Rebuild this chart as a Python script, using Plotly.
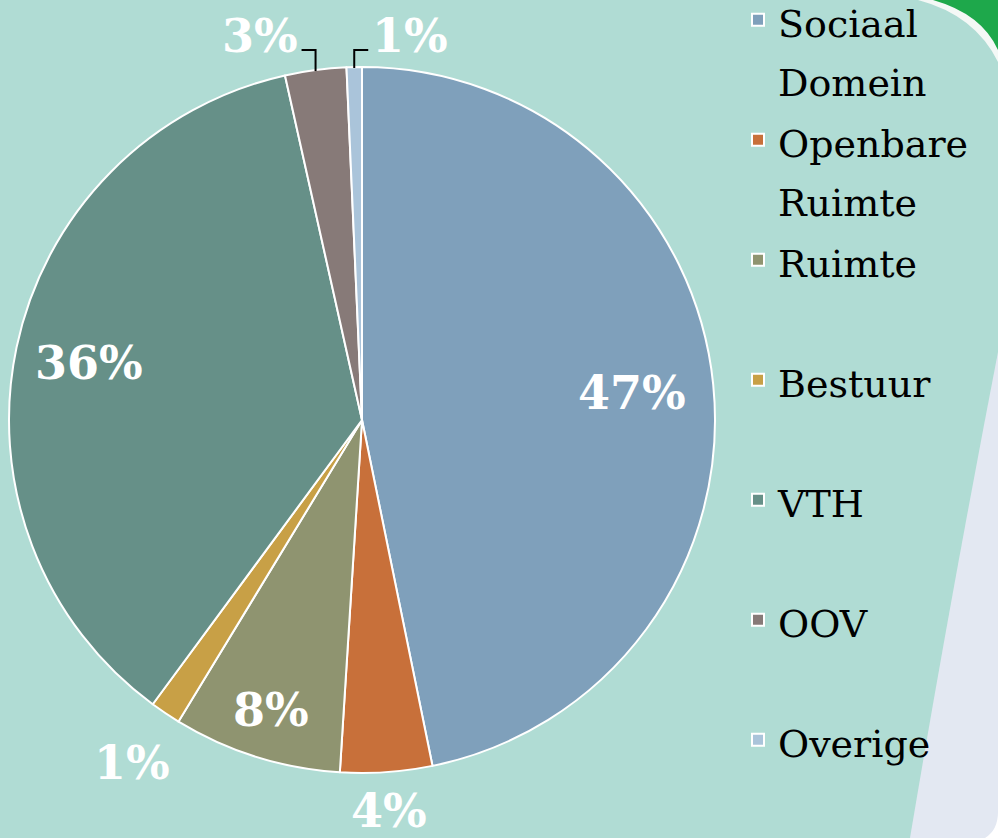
import math
import plotly.graph_objects as go

# ---- data ----
categories = ["Sociaal Domein", "Openbare Ruimte", "Ruimte", "Bestuur", "VTH", "OOV", "Overige"]
shares = [46.8, 4.2, 7.7, 1.4, 36.4, 2.8, 0.7]

# ---- style ----
colors = ["#7fa0bb", "#c8703a", "#8f9470", "#c8a046", "#669088", "#877a78", "#aac4da"]
label_radius = [0.77, 1.11, 0.86, 1.17, 0.79, None, None]   # None -> leader line label
leader_dir = {5: -1, 6: 1}
BG = "#b0dcd4"
W, H = 998, 838
CX, CY, R = 362, 420, 353          # pie centre / radius in px

def px(x):
    return x / W

def py(y):
    return 1 - y / H

def legend_text(name, pad):
    words = name.split(" ")
    if len(words) > 1:
        lines = [words[0], " ".join(words[1:])]
    else:
        lines = [name, "\u00a0"] if pad else [name]
    return "<br>".join(f'<span style="font-size:38px">{l}</span>' for l in lines)

legend_labels = [legend_text(c, i < len(categories) - 1) for i, c in enumerate(categories)]

fig = go.Figure(go.Pie(
    labels=legend_labels,
    values=shares,
    sort=False,
    direction="clockwise",
    rotation=0,
    textinfo="none",
    hoverinfo="skip",
    marker=dict(colors=colors, line=dict(color="white", width=2)),
    domain=dict(x=[px(CX - R), px(CX + R)], y=[py(CY + R), py(CY - R)]),
))

total = sum(shares)
annotations = []
shapes = []

# background decorations
shapes.append(dict(type="path", xref="paper", yref="paper", layer="below",
                   path=f"M {px(998)},{py(352)} Q {px(950)},{py(600)} {px(910)},{py(838)} L {px(998)},{py(838)} Z",
                   fillcolor="#e3e8f2", line=dict(width=0)))
shapes.append(dict(type="path", xref="paper", yref="paper", layer="below",
                   path=f"M {px(985)},{py(838)} Q {px(998)},{py(830)} {px(998)},{py(812)} L {px(998)},{py(838)} Z",
                   fillcolor="white", line=dict(width=0)))
shapes.append(dict(type="path", xref="paper", yref="paper", layer="below",
                   path=f"M {px(918)},{py(0)} Q {px(975)},{py(15)} {px(998)},{py(62)} L {px(998)},{py(0)} Z",
                   fillcolor="#f4f8f6", line=dict(width=0)))
shapes.append(dict(type="path", xref="paper", yref="paper", layer="below",
                   path=f"M {px(933)},{py(0)} Q {px(982)},{py(14)} {px(998)},{py(50)} L {px(998)},{py(0)} Z",
                   fillcolor="#1ea84b", line=dict(width=0)))

cum = 0.0
for i, v in enumerate(shares):
    mid = (cum + v / 2) / total
    cum += v
    th = 2 * math.pi * mid
    s, c = math.sin(th), math.cos(th)
    txt = f"{round(100 * v / total)}%"
    k = label_radius[i]
    if k is not None:
        x = CX + k * R * s
        y = CY - k * R * c
        annotations.append(dict(x=px(x), y=py(y), xref="paper", yref="paper", text=txt,
                                showarrow=False, xanchor="center", yanchor="middle",
                                font=dict(family="DejaVu Serif", size=46, color="white", weight="bold")))
    else:
        d = leader_dir[i]
        ex, ey = CX + R * s, CY - R * c + 1
        ty = CY - R - 17
        hx = ex + d * 14
        shapes.append(dict(type="path", xref="paper", yref="paper",
                           path=f"M {px(ex)},{py(ey)} L {px(ex)},{py(ty)} L {px(hx)},{py(ty)}",
                           line=dict(color="black", width=2)))
        annotations.append(dict(x=px(hx + d * 2), y=py(ty - 14), xref="paper", yref="paper", text=txt,
                                showarrow=False, xanchor="right" if d < 0 else "left", yanchor="middle",
                                font=dict(family="DejaVu Serif", size=46, color="white", weight="bold")))

fig.update_layout(
    width=W, height=H,
    margin=dict(l=0, r=0, t=0, b=0, autoexpand=False),
    paper_bgcolor=BG, plot_bgcolor=BG,
    showlegend=True,
    legend=dict(x=px(738), y=py(776), xanchor="left", yanchor="bottom",
                font=dict(family="DejaVu Serif", size=45, color="black"),
                valign="top", bgcolor="rgba(0,0,0,0)", traceorder="normal"),
    shapes=shapes,
    annotations=annotations,
)

fig.write_html("out.html", config={"displayModeBar": False},
               post_script="document.body.style.margin='0';document.body.style.overflow='hidden';")
